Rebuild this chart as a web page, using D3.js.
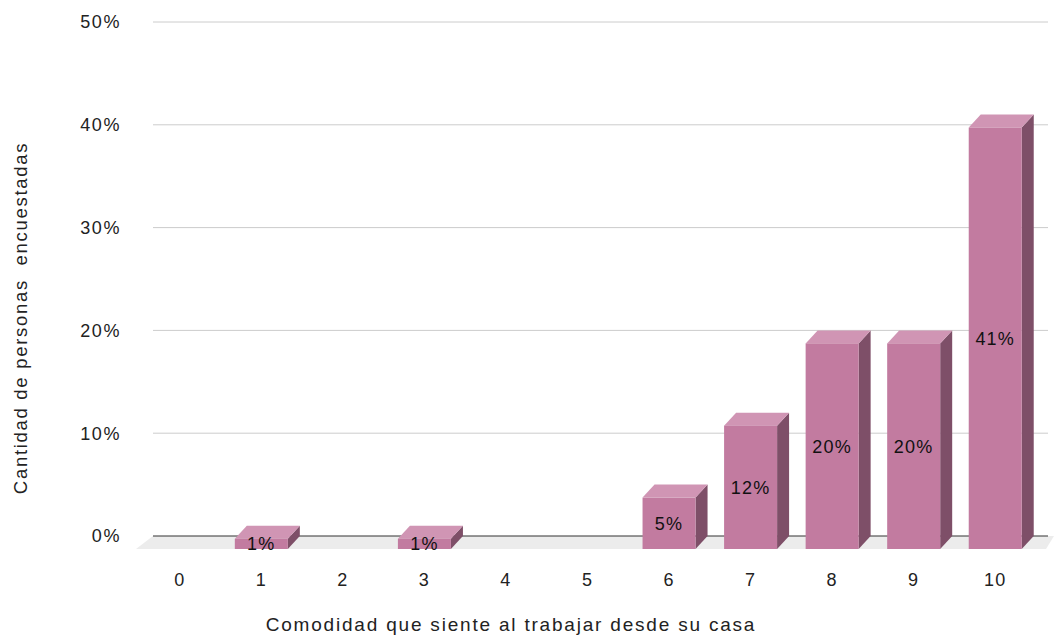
<!DOCTYPE html>
<html><head><meta charset="utf-8">
<script src="https://cdn.jsdelivr.net/npm/d3@7"></script>
<style>
html,body{margin:0;padding:0;background:#fff;}
svg{display:block;font-family:"Liberation Sans",Arial,sans-serif;}
</style></head>
<body><svg id="c" width="1054" height="644"></svg>
<script>
const categories = ["0","1","2","3","4","5","6","7","8","9","10"];
const values = [0,1,0,1,0,0,5,12,20,20,41];
const valueLabels = ["","1%","","1%","","","5%","12%","20%","20%","41%"];
const yTicks = [0,10,20,30,40,50];
const xTitle = "Comodidad que siente al trabajar desde su casa";
const yTitle = "Cantidad de personas  encuestadas";

const svg = d3.select("#c");
const DX = 12, DY = -13;
const x = d3.scaleBand().domain(categories).range([139, 1036]).paddingInner(0.35).paddingOuter(0.175);
const y = d3.scaleLinear().domain([0, 50]).range([549, 35]);

// back-wall gridlines
svg.append("g").selectAll("line").data(yTicks.filter(t => t > 0)).join("line")
  .attr("x1", 139 + DX + 2).attr("x2", 1036 + DX)
  .attr("y1", d => y(d) + DY).attr("y2", d => y(d) + DY)
  .attr("stroke", "#cccccc").attr("stroke-width", 1);

// floor
svg.append("path")
  .attr("d", `M${139 + DX + 2},${y(0) + DY} L${1036 + DX + 6},${y(0) + DY} L${1036 + 10},${y(0)} L${136},${y(0)} Z`)
  .attr("fill", "#ececec");
// zero line on back wall
svg.append("line")
  .attr("x1", 139 + DX + 2).attr("x2", 1036 + DX)
  .attr("y1", y(0) + DY).attr("y2", y(0) + DY)
  .attr("stroke", "#333").attr("stroke-width", 1.2);

// y tick labels
svg.selectAll("text.yt").data(yTicks).join("text")
  .attr("x", 121).attr("y", d => y(d) + DY)
  .attr("dy", "0.35em").attr("text-anchor", "end")
  .attr("font-size", 18).attr("letter-spacing", 1.6).attr("fill", "#222")
  .text(d => d + "%");

// bars
const bars = svg.append("g").selectAll("g").data(categories.map((c, i) => ({c, v: values[i], l: valueLabels[i]})).filter(d => d.v > 0)).join("g");
const bw = x.bandwidth();
bars.append("path").attr("fill", "#7e4f68")
  .attr("d", d => { const x1 = x(d.c) + bw, yt = y(d.v), yb = y(0);
    return `M${x1},${yt} L${x1 + DX},${yt + DY} L${x1 + DX},${yb + DY} L${x1},${yb} Z`; });
bars.append("path").attr("fill", "#d095b4")
  .attr("d", d => { const x0 = x(d.c), x1 = x0 + bw, yt = y(d.v);
    return `M${x0},${yt} L${x0 + DX},${yt + DY} L${x1 + DX},${yt + DY} L${x1},${yt} Z`; });
bars.append("rect").attr("fill", "#c27ba0")
  .attr("x", d => x(d.c)).attr("width", bw)
  .attr("y", d => y(d.v)).attr("height", d => y(0) - y(d.v));
bars.append("text")
  .attr("x", d => x(d.c) + bw / 2).attr("y", d => (y(d.v) + y(0)) / 2)
  .attr("dy", "0.36em").attr("text-anchor", "middle")
  .attr("font-size", 18).attr("letter-spacing", 1.2).attr("fill", "#111")
  .text(d => d.l);

// category labels
svg.selectAll("text.xt").data(categories).join("text")
  .attr("x", d => x(d) + bw / 2).attr("y", 580)
  .attr("dy", "0.35em").attr("text-anchor", "middle")
  .attr("font-size", 18).attr("letter-spacing", 1.2).attr("fill", "#222")
  .text(d => d);

// axis titles
svg.append("text").attr("x", 511).attr("y", 624).attr("dy", "0.35em")
  .attr("text-anchor", "middle").attr("font-size", 19).attr("letter-spacing", 1.8).attr("fill", "#222")
  .text(xTitle);
svg.append("text").attr("transform", "translate(21,318) rotate(-90)").attr("dy", "0.35em")
  .attr("text-anchor", "middle").attr("font-size", 18.5).attr("letter-spacing", 1.7).attr("fill", "#222")
  .style("white-space", "pre")
  .text(yTitle);
</script></body></html>
